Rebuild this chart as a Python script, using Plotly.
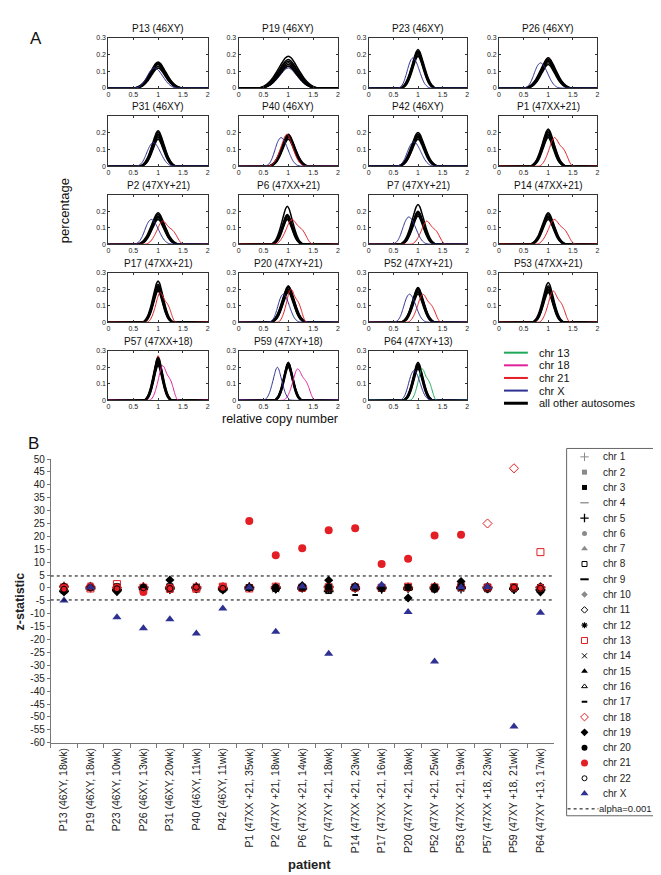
import plotly.graph_objects as go

W, H = 661, 875
def px(x): return x / W
def py(y): return 1 - y / H

FONT = "Arial, Liberation Sans, sans-serif"

# ---------------- Panel A data ----------------
PANEL_TITLES = ["P13 (46XY)", "P19 (46XY)", "P23 (46XY)", "P26 (46XY)",
                "P31 (46XY)", "P40 (46XY)", "P42 (46XY)", "P1 (47XX+21)",
                "P2 (47XY+21)", "P6 (47XX+21)", "P7 (47XY+21)", "P14 (47XX+21)",
                "P17 (47XX+21)", "P20 (47XY+21)", "P52 (47XY+21)", "P53 (47XX+21)",
                "P57 (47XX+18)", "P59 (47XY+18)", "P64 (47XY+13)"]

# offsets (in half-widths) at which the density shapes were read
U = [-1.0, -0.9, -0.8, -0.7, -0.6, -0.5, -0.4, -0.3, -0.2, -0.1, 0.0,
     0.1, 0.2, 0.3, 0.4, 0.5, 0.6, 0.7, 0.8, 0.9, 1.0]
SHAPE_NORMAL = [0.0, 0.02, 0.06, 0.12, 0.21, 0.33, 0.48, 0.64, 0.80, 0.94, 1.0,
                0.94, 0.80, 0.64, 0.48, 0.33, 0.21, 0.12, 0.06, 0.02, 0.0]
SHAPE_TRI = [0.0, 0.03, 0.09, 0.18, 0.30, 0.45, 0.62, 0.80, 0.94, 1.0, 0.96,
             0.86, 0.76, 0.69, 0.63, 0.55, 0.43, 0.29, 0.15, 0.05, 0.0]
SHAPE_X = [0.0, 0.02, 0.06, 0.14, 0.27, 0.45, 0.65, 0.83, 0.95, 1.0, 0.96,
           0.86, 0.72, 0.56, 0.40, 0.26, 0.15, 0.08, 0.03, 0.01, 0.0]
SHAPES = {"n": SHAPE_NORMAL, "t": SHAPE_TRI, "x": SHAPE_X}

# autosomes (black): half base width and peak heights of the curves
AUTO_HW = [0.46, 0.58, 0.35, 0.45, 0.35, 0.38, 0.39, 0.35, 0.39, 0.31,
           0.35, 0.35, 0.30, 0.35, 0.33, 0.31, 0.27, 0.27, 0.29]
AUTO_PEAKS = [
    [0.12, 0.13, 0.14, 0.145, 0.15, 0.155],
    [0.13, 0.14, 0.15, 0.16, 0.17, 0.19],
    [0.19, 0.20, 0.21, 0.215, 0.22, 0.23],
    [0.14, 0.15, 0.16, 0.165, 0.17, 0.18],
    [0.16, 0.17, 0.18, 0.19, 0.20, 0.21],
    [0.16, 0.17, 0.175, 0.18, 0.185, 0.19],
    [0.16, 0.17, 0.175, 0.18, 0.19, 0.20],
    [0.17, 0.18, 0.19, 0.20, 0.21, 0.22],
    [0.15, 0.16, 0.165, 0.17, 0.18, 0.19],
    [0.15, 0.16, 0.17, 0.175, 0.18, 0.23],
    [0.17, 0.18, 0.19, 0.195, 0.20, 0.24],
    [0.15, 0.16, 0.165, 0.17, 0.18, 0.19],
    [0.19, 0.20, 0.21, 0.22, 0.23, 0.25],
    [0.18, 0.19, 0.20, 0.21, 0.215, 0.22],
    [0.17, 0.18, 0.19, 0.20, 0.205, 0.21],
    [0.18, 0.19, 0.20, 0.21, 0.22, 0.24],
    [0.21, 0.22, 0.23, 0.24, 0.25, 0.26],
    [0.20, 0.21, 0.215, 0.22, 0.225, 0.23],
    [0.19, 0.20, 0.21, 0.215, 0.22, 0.23],
]
AUTO_CENTER = [1.0, 1.0, 1.0, 1.0, 1.0, 1.0, 1.0, 1.0, 1.0, 0.98,
               1.0, 1.0, 1.0, 1.0, 1.0, 1.0, 1.0, 1.0, 1.0]

# chr X (blue)
X_CENTER = [0.97, 1.0, 0.93, 0.88, 0.94, 0.89, 0.95, 1.0, 0.90, 0.99,
            0.85, 1.0, 1.0, 0.93, 0.86, 1.0, 1.0, 0.78, 0.95]
X_HW = [0.44, 0.54, 0.34, 0.38, 0.38, 0.36, 0.38, 0.34, 0.38, 0.30,
        0.37, 0.34, 0.29, 0.32, 0.34, 0.30, 0.26, 0.27, 0.32]
X_PEAK = [0.12, 0.12, 0.18, 0.15, 0.14, 0.17, 0.145, 0.18, 0.15, 0.17,
          0.165, 0.16, 0.20, 0.17, 0.17, 0.20, 0.23, 0.20, 0.18]
X_SHAPE = ["x", "n", "x", "x", "x", "x", "x", "n", "x", "n",
           "x", "n", "n", "x", "x", "n", "n", "n", "x"]

# chr 21 (red)
C21_CENTER = [1.0, 1.0, 1.0, 1.0, 1.0, 0.97, 1.02, 1.16, 1.13, 1.11,
              1.21, 1.16, 1.07, 1.08, 1.13, 1.13, 1.0, 1.0, 1.0]
C21_HW = [0.44, 0.54, 0.34, 0.44, 0.34, 0.36, 0.38, 0.34, 0.37, 0.37,
          0.34, 0.38, 0.28, 0.28, 0.33, 0.31, 0.26, 0.26, 0.28]
C21_PEAK = [0.15, 0.14, 0.22, 0.18, 0.19, 0.19, 0.18, 0.17, 0.14, 0.15,
            0.14, 0.15, 0.18, 0.20, 0.17, 0.19, 0.27, 0.22, 0.21]
C21_SHAPE = ["n", "n", "n", "n", "n", "n", "n", "t", "t", "t",
             "t", "t", "t", "t", "t", "t", "n", "n", "n"]

# chr 18 (magenta)
C18_CENTER = [1.0, 1.0, 1.0, 1.0, 1.0, 1.0, 1.0, 1.0, 1.0, 1.0,
              1.0, 1.0, 1.0, 1.0, 1.0, 1.0, 1.12, 1.22, 1.0]
C18_HW = [0.44, 0.54, 0.34, 0.44, 0.34, 0.36, 0.38, 0.34, 0.38, 0.30,
          0.34, 0.34, 0.29, 0.32, 0.32, 0.30, 0.28, 0.31, 0.28]
C18_PEAK = [0.14, 0.13, 0.21, 0.18, 0.19, 0.18, 0.18, 0.19, 0.17, 0.17,
            0.20, 0.17, 0.21, 0.20, 0.19, 0.20, 0.21, 0.19, 0.21]
C18_SHAPE = ["n", "n", "n", "n", "n", "n", "n", "n", "n", "n",
             "n", "n", "n", "n", "n", "n", "t", "t", "n"]

# chr 13 (green)
C13_CENTER = [1.0, 1.0, 1.0, 1.0, 1.0, 1.0, 1.0, 0.98, 1.0, 1.0,
              1.0, 1.0, 1.0, 1.0, 1.0, 1.0, 1.0, 1.0, 1.11]
C13_HW = [0.44, 0.54, 0.34, 0.44, 0.34, 0.36, 0.38, 0.34, 0.38, 0.30,
          0.34, 0.34, 0.29, 0.32, 0.32, 0.30, 0.26, 0.26, 0.26]
C13_PEAK = [0.13, 0.13, 0.20, 0.16, 0.18, 0.17, 0.17, 0.18, 0.15, 0.16,
            0.18, 0.16, 0.20, 0.19, 0.18, 0.19, 0.22, 0.21, 0.19]
C13_SHAPE = ["n", "n", "n", "n", "n", "n", "n", "n", "n", "n",
             "n", "n", "n", "n", "n", "n", "n", "n", "t"]

# ---------------- Panel B data ----------------
PATIENTS = ["P13 (46XY, 18wk)", "P19 (46XY, 18wk)", "P23 (46XY, 10wk)",
            "P26 (46XY, 13wk)", "P31 (46XY, 20wk)", "P40 (46XY, 11wk)",
            "P42 (46XY, 11wk)", "P1 (47XX +21, 35wk)", "P2 (47XY +21, 18wk)",
            "P6 (47XX +21, 14wk)", "P7 (47XY +21, 18wk)", "P14 (47XX +21, 23wk)",
            "P17 (47XX +21, 16wk)", "P20 (47XY +21, 18wk)", "P52 (47XY +21, 25wk)",
            "P53 (47XX +21, 19wk)", "P57 (47XX +18, 23wk)", "P59 (47XY +18, 21wk)",
            "P64 (47XY +13, 17wk)"]

Z = {
    "chr 1": [0.3, 0.5, -0.3, 0.2, -0.5, 0.1, 0.2, 0.4, -0.2, 0.3, -0.4, 0.2, 0.1, -0.3, 0.2, 0.1, 0.3, -0.2, 0.4],
    "chr 2": [-0.4, 1.0, 0.6, -0.2, 0.3, -0.3, 0.5, -0.1, 0.2, 0.5, 0.3, -0.2, 0.4, 0.2, -0.3, 0.1, 0.2, 0.3, -0.2],
    "chr 3": [-0.8, 0.2, -0.5, 0.1, -0.4, 0.2, -0.3, 0.1, -0.3, 0.2, -0.6, 0.1, -0.2, 0.0, -0.3, 0.2, -0.1, 0.1, 0.0],
    "chr 4": [0.9, -0.3, 0.2, -0.5, 0.4, -0.2, 0.3, 0.2, 0.3, -0.4, 0.1, -0.3, 0.2, 0.4, -0.1, 0.3, -0.2, 0.2, -0.3],
    "chr 5": [0.5, 0.3, -0.6, 0.3, 0.2, 0.4, -0.2, 0.3, -0.1, 0.2, 0.6, 0.3, -0.3, 0.1, 0.4, -0.2, 0.3, -0.4, 0.2],
    "chr 6": [-0.2, 0.6, 0.3, -0.4, -0.3, 0.2, 0.4, -0.3, 0.1, -0.2, 0.3, 0.4, 0.2, -0.3, 0.1, 0.3, -0.2, 0.5, 0.3],
    "chr 7": [0.6, 0.4, -0.2, 0.5, -0.6, -0.4, 0.2, 0.1, 0.4, 0.6, -0.3, 0.5, 0.3, 0.2, 0.5, -0.3, 0.6, 0.2, -0.4],
    "chr 8": [-1.0, 0.2, 0.4, -0.3, 0.5, 0.3, -0.4, 0.2, -0.2, 0.1, -1.0, 0.3, -0.1, 0.3, -0.4, 0.5, -0.3, 0.2, 0.1],
    "chr 9": [-1.3, -0.2, -0.9, 0.2, -0.2, 0.1, -0.6, -0.3, 0.3, -0.3, -1.3, -0.4, 0.2, -0.5, -0.2, 0.2, 0.1, -0.3, -0.8],
    "chr 10": [0.2, -0.4, 0.3, 0.3, 0.6, -0.2, 0.1, -0.2, 0.4, 0.2, 0.2, 0.6, 0.5, 0.2, 0.3, -0.4, 0.4, 0.3, 0.2],
    "chr 11": [-0.6, 0.5, -0.4, -0.2, 0.4, 0.3, -0.3, 0.3, -0.4, 0.3, 0.5, -0.3, 0.3, -0.2, 0.2, 0.4, -0.5, -0.4, -0.5],
    "chr 12": [-0.9, 0.0, -0.7, 0.4, -0.9, -0.3, 0.2, -0.1, 0.2, -0.4, -0.9, 0.1, -0.4, 0.1, -0.5, -0.3, 0.2, -0.6, -0.3],
    "chr 13": [0.2, -0.2, 1.5, 0.1, -0.3, -0.3, 0.5, -0.2, 0.5, 0.1, 0.3, 0.2, 0.1, 0.5, 0.2, 0.4, 0.2, 0.3, 13.9],
    "chr 14": [0.4, 0.3, 0.2, -0.4, 0.3, 0.5, 0.3, 0.2, -0.5, 0.4, 0.4, 0.2, -0.2, 0.3, 0.4, -0.3, 0.2, 0.3, 0.2],
    "chr 15": [-0.3, 0.2, -0.2, 0.3, -0.1, 0.2, -0.4, -0.4, 0.3, -0.2, 0.2, 0.3, 0.4, -0.4, 0.3, 0.2, -0.3, 0.4, -0.2],
    "chr 16": [0.4, 0.8, 0.5, 0.4, 0.5, -0.3, 0.4, 0.3, -0.3, 0.6, -0.2, 0.8, 0.6, 0.3, -0.2, 0.5, 0.5, 0.2, 0.4],
    "chr 17": [0.3, 0.1, -0.2, 0.2, 0.3, 0.4, -0.2, 0.1, 0.2, 0.3, 0.2, -2.7, 0.3, -0.2, 0.2, 0.3, 0.1, 0.3, 0.1],
    "chr 18": [0.5, 0.3, 0.2, 0.3, 0.2, 0.4, 0.3, 0.2, 0.3, 0.4, 0.2, 0.3, 0.3, 0.2, 0.3, 0.5, 25.0, 46.4, 0.3],
    "chr 19": [-1.5, 0.5, -1.4, -0.6, 3.1, -0.4, -0.8, 0.2, -0.4, 0.9, 3.0, 0.5, -0.3, -3.9, -0.5, 2.5, -0.3, -0.6, -1.5],
    "chr 20": [0.6, 0.4, 0.5, 0.3, 0.4, 0.2, 0.5, 0.3, 0.4, 0.5, 0.4, 0.6, 0.5, 0.3, 0.4, 0.6, 0.5, 0.4, 0.5],
    "chr 21": [0.0, 0.6, 0.1, -1.6, 0.1, -0.1, 0.5, 26.0, 12.7, 15.4, 22.4, 23.2, 9.3, 11.3, 20.3, 20.6, 0.2, 0.2, 0.1],
    "chr 22": [-0.5, 0.2, -0.3, 0.1, -0.2, 0.3, -0.2, 0.1, 0.2, -0.1, -0.2, 0.2, 0.1, 0.2, -0.1, 0.3, 0.1, 0.2, -0.1],
    "chr X": [-4.9, 0.3, -11.4, -15.6, -12.1, -17.7, -8.0, 0.2, -17.0, 0.6, -25.5, 0.5, 1.2, -9.3, -28.5, 0.3, 0.4, -53.7, -9.6],
}
ALPHA_Z = 4.65
Y_TICKS = list(range(-60, 51, 5))

# ---------------- styles ----------------
GRAY = "#8a8a8a"
RED = "#e31e24"
BLUE = "#2e3192"
GREEN = "#1fa85a"
MAGENTA = "#e0219a"
STYLE = {
    "chr 1": dict(symbol="cross-thin-open", color=GRAY, size=7, lw=1),
    "chr 2": dict(symbol="square", color=GRAY, size=6, lw=0),
    "chr 3": dict(symbol="square", color="black", size=6, lw=0),
    "chr 4": dict(symbol="line-ew-open", color=GRAY, size=7, lw=1.3),
    "chr 5": dict(symbol="cross-thin-open", color="black", size=7, lw=1.3),
    "chr 6": dict(symbol="circle", color=GRAY, size=6, lw=0),
    "chr 7": dict(symbol="triangle-up", color=GRAY, size=7, lw=0),
    "chr 8": dict(symbol="square-open", color="black", size=6, lw=1),
    "chr 9": dict(symbol="line-ew-open", color="black", size=7, lw=2),
    "chr 10": dict(symbol="diamond", color=GRAY, size=6, lw=0),
    "chr 11": dict(symbol="diamond-open", color="black", size=6, lw=1),
    "chr 12": dict(symbol="asterisk-open", color="black", size=6, lw=1.2),
    "chr 13": dict(symbol="square-open", color=RED, size=7, lw=1),
    "chr 14": dict(symbol="x-thin-open", color="black", size=6, lw=1),
    "chr 15": dict(symbol="triangle-up", color="black", size=7, lw=0),
    "chr 16": dict(symbol="triangle-up-open", color="black", size=6, lw=1),
    "chr 17": dict(symbol="line-ew-open", color="black", size=4, lw=2),
    "chr 18": dict(symbol="diamond-open", color=RED, size=7, lw=1),
    "chr 19": dict(symbol="diamond", color="black", size=7, lw=0),
    "chr 20": dict(symbol="circle", color="black", size=7, lw=0),
    "chr 21": dict(symbol="circle", color=RED, size=8, lw=0),
    "chr 22": dict(symbol="circle-open", color="black", size=6, lw=1),
    "chr X": dict(symbol="triangle-up", color=BLUE, size=8, lw=0),
}

# ---------------- layout geometry (pixels) ----------------
COL_L = [99, 230, 361, 492]
COL_R = [199, 330, 460, 591]
ROW_T = [25, 104, 184, 263, 342]
ROW_B = [76, 155, 234, 313, 392]
SHOW_03 = [True, False, False, True, True]

fig = go.Figure()
layout = {}
annotations = []
shapes = []

def suffix(i):
    return "" if i == 1 else str(i)

def curve(center, hw, peak, shape_key):
    s = SHAPES[shape_key]
    xs = [0.0] + [center + hw * u for u in U] + [2.0]
    ys = [0.0] + [peak * v for v in s] + [0.0]
    return xs, ys

for k, title in enumerate(PANEL_TITLES):
    i = k + 1
    s = suffix(i)
    r, c = divmod(k, 4)
    xa, ya = "x" + s, "y" + s

    def add(xs, ys, color, width):
        fig.add_trace(go.Scatter(x=xs, y=ys, mode="lines", xaxis=xa, yaxis=ya,
                                 line=dict(color=color, width=width, shape="spline", smoothing=0.6),
                                 hoverinfo="skip", showlegend=False))

    aberrant = []
    normal = []
    for (cen, hw, pk, sh, col) in [
        (C13_CENTER[k], C13_HW[k], C13_PEAK[k], C13_SHAPE[k], GREEN),
        (C18_CENTER[k], C18_HW[k], C18_PEAK[k], C18_SHAPE[k], MAGENTA),
        (C21_CENTER[k], C21_HW[k], C21_PEAK[k], C21_SHAPE[k], RED),
        (X_CENTER[k], X_HW[k], X_PEAK[k], X_SHAPE[k], BLUE),
    ]:
        target = aberrant if (sh != "n" or abs(cen - AUTO_CENTER[k]) > 0.03) else normal
        target.append((cen, hw, pk, sh, col))
    for (cen, hw, pk, sh, col) in normal:
        xs, ys = curve(cen, hw, pk, sh)
        add(xs, ys, col, 1)
    for j, pk in enumerate(AUTO_PEAKS[k]):
        xs, ys = curve(AUTO_CENTER[k], AUTO_HW[k] * (0.94 + 0.024 * j), pk, "n")
        add(xs, ys, "black", 1.5)
    for (cen, hw, pk, sh, col) in aberrant:
        xs, ys = curve(cen, hw, pk, sh)
        add(xs, ys, col, 1)

    axis_common = dict(showgrid=False, zeroline=False, showline=True, mirror="ticks",
                       linecolor="#333", linewidth=1, ticks="inside", ticklen=2,
                       tickcolor="#333", tickfont=dict(size=7, family=FONT, color="#222"),
                       fixedrange=True)
    layout["xaxis" + s] = dict(axis_common, domain=[px(COL_L[c]), px(COL_R[c])],
                               anchor=ya, range=[0, 2],
                               tickvals=[0, 0.5, 1, 1.5, 2],
                               ticktext=["0", "0.5", "1", "1.5", "2"])
    layout["yaxis" + s] = dict(axis_common, domain=[py(ROW_B[r]), py(ROW_T[r])],
                               anchor=xa, range=[0, 0.3],
                               tickvals=[0, 0.1, 0.2, 0.3],
                               ticktext=["0", "0.1", "0.2", "0.3" if SHOW_03[r] else ""])
    annotations.append(dict(text=title, x=px((COL_L[c] + COL_R[c]) / 2), y=py(ROW_T[r] - 2),
                            xref="paper", yref="paper", xanchor="center", yanchor="bottom",
                            showarrow=False, font=dict(size=10, family=FONT, color="#111")))

# Panel A legend
LEG_A = [("chr 13", GREEN, 2), ("chr 18", MAGENTA, 2), ("chr 21", RED, 2),
         ("chr X", BLUE, 2), ("all other autosomes", "black", 3)]
for j, (lab, col, lw) in enumerate(LEG_A):
    yy = 344 + 12.8 * j
    shapes.append(dict(type="line", xref="paper", yref="paper", x0=px(497), x1=px(521),
                       y0=py(yy), y1=py(yy), line=dict(color=col, width=lw)))
    annotations.append(dict(text=lab, x=px(530), y=py(yy), xref="paper", yref="paper",
                            xanchor="left", yanchor="middle", showarrow=False,
                            font=dict(size=11, family=FONT, color="#111")))

annotations.append(dict(text="percentage", x=px(55), y=py(200), xref="paper", yref="paper",
                        textangle=-90, showarrow=False, xanchor="center", yanchor="middle",
                        font=dict(size=13, family=FONT, color="#111")))
annotations.append(dict(text="relative copy number", x=px(272), y=py(411), xref="paper",
                        yref="paper", showarrow=False, xanchor="center", yanchor="middle",
                        font=dict(size=12.5, family=FONT, color="#111")))
annotations.append(dict(text="A", x=px(18), y=py(14), xref="paper", yref="paper",
                        showarrow=False, font=dict(size=17, family=FONT, color="#111")))
annotations.append(dict(text="B", x=px(16), y=py(436), xref="paper", yref="paper",
                        showarrow=False, font=dict(size=17, family=FONT, color="#111")))

# ---------------- Panel B ----------------
NB = 20
sB = str(NB)
for name, vals in Z.items():
    st = STYLE[name]
    fig.add_trace(go.Scatter(x=PATIENTS, y=vals, mode="markers", xaxis="x" + sB, yaxis="y" + sB,
                             marker=dict(symbol=st["symbol"], color=st["color"], size=st["size"],
                                         line=dict(color=st["color"], width=st["lw"])),
                             name=name, showlegend=False, hoverinfo="skip"))
for zv in (ALPHA_Z, -ALPHA_Z):
    shapes.append(dict(type="line", xref="x" + sB + " domain", yref="y" + sB,
                       x0=0, x1=1, y0=zv, y1=zv, line=dict(color="black", width=1, dash="dot")))

layout["xaxis" + sB] = dict(domain=[px(41), px(547)], anchor="y" + sB, type="category",
                            categoryorder="array", categoryarray=PATIENTS,
                            range=[-0.5, len(PATIENTS) - 0.5], tickson="boundaries",
                            ticks="outside", ticklen=4, tickcolor="#777", tickangle=-90,
                            showline=True, linecolor="#777", linewidth=1, showgrid=False,
                            zeroline=False, tickfont=dict(size=10.5, family=FONT, color="#222"),
                            fixedrange=True)
layout["yaxis" + sB] = dict(domain=[py(739), py(451.7)], anchor="x" + sB, range=[-60, 50],
                            tickvals=Y_TICKS, ticktext=[str(v) for v in Y_TICKS],
                            ticks="outside", ticklen=3, tickcolor="#777", showline=True,
                            linecolor="#777", linewidth=1, showgrid=False, zeroline=False,
                            tickfont=dict(size=10, family=FONT, color="#222"), fixedrange=True)
annotations.append(dict(text="<b>z-statistic</b>", x=px(10), y=py(596), xref="paper", yref="paper",
                        textangle=-90, showarrow=False, xanchor="center", yanchor="middle",
                        font=dict(size=12.5, family=FONT, color="#222")))
annotations.append(dict(text="<b>patient</b>", x=px(301), y=py(862), xref="paper", yref="paper",
                        showarrow=False, xanchor="center", yanchor="middle",
                        font=dict(size=13, family=FONT, color="#222")))

# Panel B legend (hidden axes in pixel units)
NL = 21
sL = str(NL)
LX0, LX1, LY0, LY1 = 560, 658, 441, 813
layout["xaxis" + sL] = dict(domain=[px(LX0), px(LX1)], anchor="y" + sL, range=[LX0, LX1],
                            visible=False, fixedrange=True)
layout["yaxis" + sL] = dict(domain=[py(LY1), py(LY0)], anchor="x" + sL, range=[LY1, LY0],
                            visible=False, fixedrange=True)
shapes.append(dict(type="rect", xref="paper", yref="paper", x0=px(LX0), x1=px(LX1),
                   y0=py(LY1), y1=py(LY0), line=dict(color="#666", width=1)))
for j, name in enumerate(Z.keys()):
    st = STYLE[name]
    yy = 449.5 + 15.5 * j
    fig.add_trace(go.Scatter(x=[578], y=[yy], mode="markers", xaxis="x" + sL, yaxis="y" + sL,
                             marker=dict(symbol=st["symbol"], color=st["color"],
                                         size=max(4, st["size"] - 1),
                                         line=dict(color=st["color"], width=st["lw"])),
                             showlegend=False, hoverinfo="skip", cliponaxis=False))
    annotations.append(dict(text=name, x=595, y=yy, xref="x" + sL, yref="y" + sL,
                            xanchor="left", yanchor="middle", showarrow=False,
                            font=dict(size=10, family=FONT, color="#222")))
ya_alpha = 449.5 + 15.5 * len(Z)
fig.add_trace(go.Scatter(x=[561, 592], y=[ya_alpha, ya_alpha], mode="lines", xaxis="x" + sL,
                         yaxis="y" + sL, line=dict(color="black", width=1, dash="dot"),
                         showlegend=False, hoverinfo="skip"))
annotations.append(dict(text="alpha=0.001", x=591, y=ya_alpha, xref="x" + sL, yref="y" + sL,
                        xanchor="left", yanchor="middle", showarrow=False,
                        font=dict(size=9.5, family=FONT, color="#222")))

layout.update(dict(width=W, height=H, margin=dict(l=0, r=0, t=0, b=0),
                   paper_bgcolor="white", plot_bgcolor="white", showlegend=False,
                   annotations=annotations, shapes=shapes))
fig.update_layout(**layout)
fig.write_html("out.html")
